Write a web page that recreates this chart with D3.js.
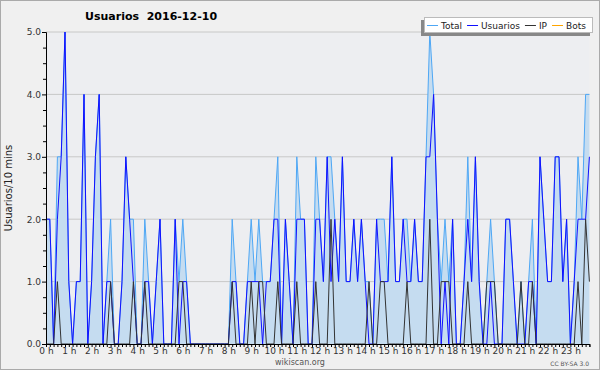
<html>
<head>
<style>
    body { margin: 0; padding: 0; background-color: white; }
    svg { display: block; }
</style>
<script src="https://cdn.jsdelivr.net/npm/d3@7"></script>
</head>
<body>

<svg width="600" height="370"></svg>

<script>

// one value per 10 minutes, 144 slots (00:00 .. 23:50)
const total = [
    2,2,0,3,3,5,1,0,1,1,4,0,1,3,4,0,1,2,0,0,1,3,2,2,
    0,0,2,1,0,1,2,0,0,0,2,1,2,1,0,0,0,0,0,0,0,0,0,0,
    0,2,1,0,0,1,2,1,2,1,1,1,2,3,0,2,1,0,3,2,2,0,0,3,
    2,1,3,3,2,1,3,1,1,2,1,2,1,1,0,2,2,2,1,3,1,1,2,2,
    1,2,1,1,3,5,4,2,1,2,1,2,0,0,1,3,1,3,1,0,1,2,1,0,
    0,2,2,1,0,1,0,1,2,0,3,2,1,1,3,3,1,2,0,1,3,2,4,4
];
const usuarios = [
    2,2,0,2,3,5,1,0,1,1,4,0,1,3,4,0,1,1,0,0,1,3,2,1,
    0,0,1,1,0,1,2,0,0,0,2,0,1,1,0,0,0,0,0,0,0,0,0,0,
    0,1,1,0,0,1,1,1,1,0,1,1,2,2,0,2,1,0,2,2,2,0,0,2,
    2,1,3,1,2,1,3,1,1,2,1,2,1,0,0,2,1,1,1,3,1,1,2,1,
    1,2,1,1,3,3,4,2,0,1,0,2,0,0,1,2,1,3,1,0,0,1,0,0,
    0,2,2,1,0,0,0,1,1,0,3,2,1,1,3,3,1,2,0,1,2,2,2,3
];
const ip = [
    0,0,0,1,0,0,0,0,0,0,0,0,0,0,0,0,0,1,0,0,0,0,0,1,
    0,0,1,0,0,0,0,0,0,0,0,1,1,0,0,0,0,0,0,0,0,0,0,0,
    0,1,0,0,0,0,1,0,1,1,0,0,0,1,0,0,0,0,1,0,0,0,0,1,
    0,0,0,2,0,0,0,0,0,0,0,0,0,1,0,0,1,1,0,0,0,0,0,1,
    0,0,0,0,0,2,0,0,1,1,1,0,0,0,0,1,0,0,0,0,1,1,1,0,
    0,0,0,0,0,1,0,0,1,0,0,0,0,0,0,0,0,0,0,0,1,0,2,1
];
const hourLabels = d3.range(24).map(h => h + " h");
const legendNames = ["Total", "Usuarios", "IP", "Bots"];
const legendColors = ["#4ea7f5", "#1010ff", "#333333", "#ffa500"];

const svg = d3.select("svg");

const mLeft = 46, mRight = 589.4, mTop = 32, mBottom = 344;
const font = "DejaVu Sans, sans-serif";

// page background + frame
svg.append("rect")
    .attr("x", 0.5).attr("y", 0.5)
    .attr("width", 599).attr("height", 369)
    .attr("fill", "#f0f0f0")
    .attr("stroke", "#aaaaaa");

svg.append("rect")
    .attr("x", mLeft).attr("y", mTop)
    .attr("width", mRight - mLeft).attr("height", mBottom - mTop)
    .attr("fill", "#edeef1");

let x = d3.scaleLinear().domain([0, total.length - 1]).range([mLeft, mRight]);
let y = d3.scaleLinear().domain([0, 5]).range([mBottom, mTop]);

// grid
svg.append("g")
    .selectAll("line")
    .data([1, 2, 3, 4, 5])
    .join("line")
    .attr("x1", mLeft).attr("x2", mRight)
    .attr("y1", d => y(d)).attr("y2", d => y(d))
    .attr("stroke", "#c8c8c8")
    .attr("stroke-width", 1);

// total area + lines
let area = d3.area()
    .x((d, i) => x(i))
    .y0(y(0))
    .y1(d => y(d));

let line = d3.line()
    .x((d, i) => x(i))
    .y(d => y(d));

svg.append("path")
    .attr("d", area(total))
    .attr("fill", "#c5dcf0");

svg.append("path")
    .attr("d", line(total))
    .attr("fill", "none")
    .attr("stroke", legendColors[0])
    .attr("stroke-width", 1);

svg.append("path")
    .attr("d", line(usuarios))
    .attr("fill", "none")
    .attr("stroke", legendColors[1])
    .attr("stroke-width", 1);

svg.append("path")
    .attr("d", line(ip))
    .attr("fill", "none")
    .attr("stroke", legendColors[2])
    .attr("stroke-width", 1);

// y axis
let yAxis = svg.append("g")
    .attr("transform", `translate(${mLeft},0)`)
    .call(d3.axisLeft(y)
        .tickValues(d3.range(0, 5.01, 0.25))
        .tickSize(3)
        .tickPadding(2)
        .tickFormat(d => Number.isInteger(d) ? d.toFixed(1) : ""));
yAxis.selectAll(".tick line")
    .attr("x2", d => Number.isInteger(d) ? -4 : -3);

// x axis
let xAxis = svg.append("g")
    .attr("transform", `translate(0,${mBottom})`)
    .call(d3.axisBottom(x)
        .tickValues(d3.range(total.length))
        .tickSize(3)
        .tickPadding(1)
        .tickFormat(i => i % 6 == 0 ? hourLabels[i / 6] : ""));

svg.selectAll(".domain").attr("stroke", "black");
svg.selectAll(".tick line").attr("stroke", "black");
svg.selectAll(".tick text")
    .attr("font-family", font)
    .attr("font-size", "9px")
    .attr("fill", "#333");

// title (two spaces kept)
svg.append("text")
    .attr("x", 85).attr("y", 20)
    .attr("font-family", font)
    .attr("font-weight", "bold")
    .attr("font-size", "11px")
    .attr("fill", "black")
    .style("white-space", "pre")
    .text("Usuarios  2016-12-10");

// y label
svg.append("text")
    .attr("transform", `translate(12,${(mTop + mBottom) / 2}) rotate(-90)`)
    .attr("text-anchor", "middle")
    .attr("font-family", font)
    .attr("font-size", "10px")
    .attr("fill", "#222")
    .text("Usuarios/10 mins");

// footer
svg.append("text")
    .attr("x", 300).attr("y", 365)
    .attr("text-anchor", "middle")
    .attr("font-family", font)
    .attr("font-size", "8px")
    .attr("fill", "#555")
    .text("wikiscan.org");

svg.append("text")
    .attr("x", 589).attr("y", 366)
    .attr("text-anchor", "end")
    .attr("font-family", font)
    .attr("font-size", "6px")
    .attr("fill", "#555")
    .text("CC BY-SA 3.0");

// legend with shadow (shadow sits left/below)
let legend = svg.append("g");
legend.append("rect")
    .attr("x", 421).attr("y", 20)
    .attr("width", 169).attr("height", 16)
    .attr("fill", "#888");
legend.append("rect")
    .attr("x", 424.5).attr("y", 17.5)
    .attr("width", 168).attr("height", 15)
    .attr("fill", "white")
    .attr("stroke", "#bbb");

// lay items out one after the other
let lx = 427;
legendNames.forEach((name, i) => {
    legend.append("line")
        .attr("x1", lx).attr("x2", lx + 11)
        .attr("y1", 25.5).attr("y2", 25.5)
        .attr("stroke", legendColors[i]);
    let t = legend.append("text")
        .attr("x", lx + 14).attr("y", 29)
        .attr("font-family", font)
        .attr("font-size", "9px")
        .attr("fill", "#222")
        .text(name);
    lx += 14 + t.node().getComputedTextLength() + 5;
});

</script>
</body>
</html>
